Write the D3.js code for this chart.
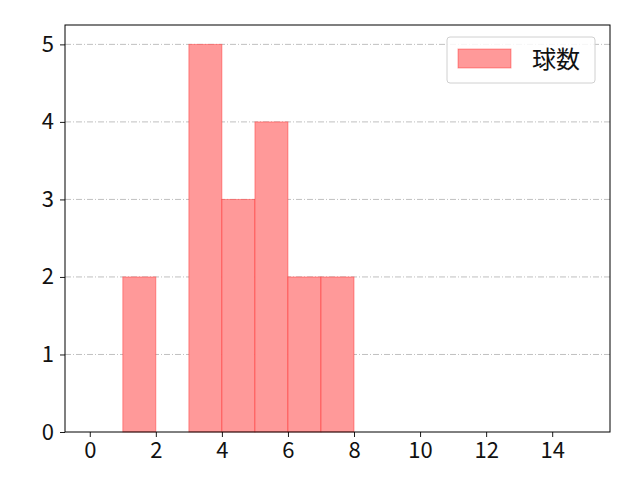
<!DOCTYPE html>
<html>
<head>
<meta charset="utf-8">
<script src="https://d3js.org/d3.v7.min.js"></script>
<style>
  html, body { margin: 0; padding: 0; background: #fff; }
  svg { font-family: 'Noto Sans CJK JP', 'Noto Sans', sans-serif; }
</style>
</head>
<body>
<svg id="svg" width="640" height="480"></svg>
<script>
  // histogram bins (left edge, right edge) and counts
  const binStarts = [1, 3, 4, 5, 6, 7];
  const binEnds = [2, 4, 5, 6, 7, 8];
  const counts = [2, 5, 3, 4, 2, 2];
  const xTicks = [0, 2, 4, 6, 8, 10, 12, 14];
  const yTicks = [0, 1, 2, 3, 4, 5];
  const seriesName = '球数';

  const plotLeft = 65, plotRight = 610, plotTop = 25, plotBottom = 432;
  const svg = d3.select('#svg');

  const x = d3.scaleLinear().domain([-0.75, 15.75]).range([plotLeft, plotRight]);
  const y = d3.scaleLinear().domain([0, 5.25]).range([plotBottom, plotTop]);

  // grid
  svg.append('g')
    .selectAll('line')
    .data(yTicks.slice(1))
    .join('line')
    .attr('x1', plotLeft).attr('x2', plotRight)
    .attr('y1', d => y(d)).attr('y2', d => y(d))
    .attr('stroke', '#b0b0b0')
    .attr('stroke-width', 0.8)
    .attr('stroke-dasharray', '6,2,1,2');

  // bars
  const bins = counts.map((c, i) => ({ x0: binStarts[i], x1: binEnds[i], c }));
  svg.append('g')
    .selectAll('rect')
    .data(bins)
    .join('rect')
    .attr('x', d => x(d.x0))
    .attr('width', d => x(d.x1) - x(d.x0))
    .attr('y', d => y(d.c))
    .attr('height', d => y(0) - y(d.c))
    .attr('fill', '#ff9999')
    .attr('stroke', 'rgba(255,0,0,0.35)')
    .attr('stroke-width', 1);

  // axes
  const xAxis = svg.append('g')
    .attr('transform', `translate(0,${plotBottom})`)
    .call(d3.axisBottom(x).tickValues(xTicks).tickFormat(d3.format('d'))
      .tickSize(5).tickPadding(4));
  const yAxis = svg.append('g')
    .attr('transform', `translate(${plotLeft},0)`)
    .call(d3.axisLeft(y).tickValues(yTicks).tickFormat(d3.format('d'))
      .tickSize(5).tickPadding(6));
  [xAxis, yAxis].forEach(a => {
    a.select('.domain').remove();
    a.selectAll('text').attr('font-size', 22).attr('fill', '#111')
      .style('font-family', "'Noto Sans CJK JP', sans-serif");
    a.selectAll('line').attr('stroke', '#000').attr('stroke-width', 0.9);
  });
  xAxis.selectAll('text').attr('dy', '0.78em');

  // frame
  svg.append('rect')
    .attr('x', plotLeft).attr('y', plotTop)
    .attr('width', plotRight - plotLeft).attr('height', plotBottom - plotTop)
    .attr('fill', 'none').attr('stroke', '#000').attr('stroke-width', 1);

  // legend
  const lg = svg.append('g');
  lg.append('rect')
    .attr('x', 447).attr('y', 37).attr('width', 148).attr('height', 46)
    .attr('rx', 3)
    .attr('fill', 'rgba(255,255,255,0.85)')
    .attr('stroke', '#d0d0d0');
  lg.append('rect')
    .attr('x', 458).attr('y', 49).attr('width', 53).attr('height', 19)
    .attr('fill', '#ff9999')
    .attr('stroke', 'rgba(255,0,0,0.35)');
  lg.append('text')
    .attr('x', 532).attr('y', 68)
    .attr('font-size', 24)
    .attr('fill', '#111')
    .text(seriesName);
</script>
</body>
</html>
